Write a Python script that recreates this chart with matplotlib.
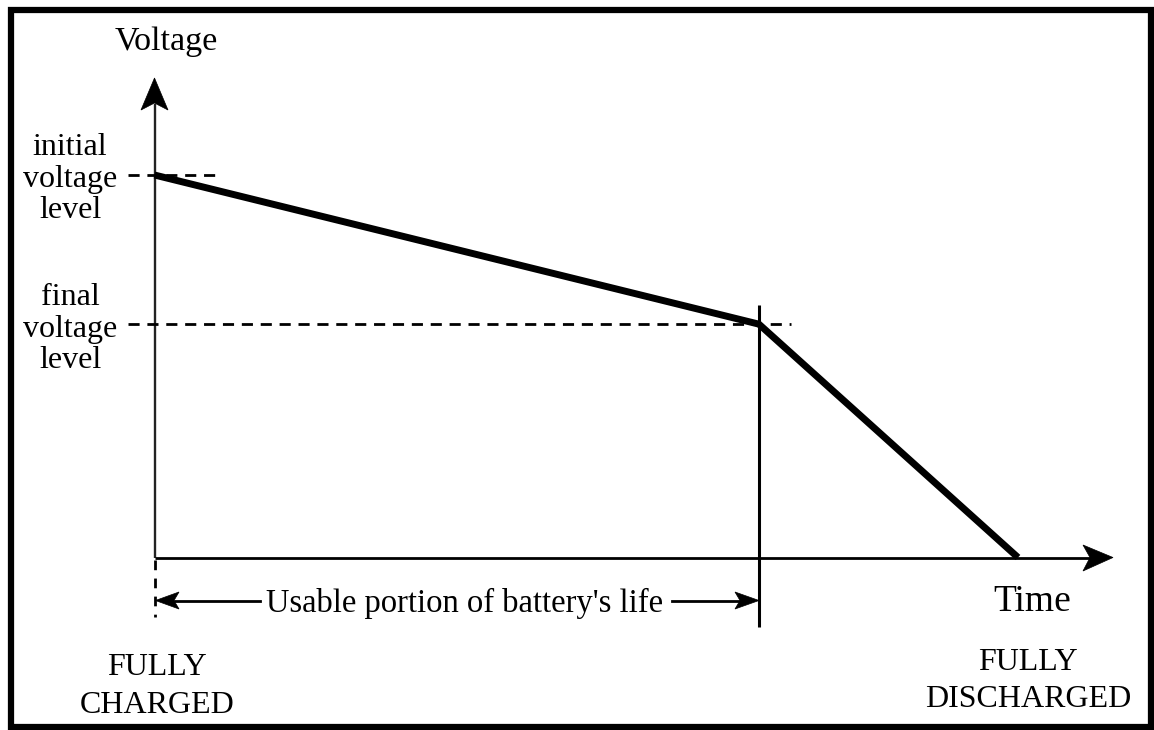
import matplotlib
matplotlib.use("Agg")
import matplotlib.pyplot as plt
from matplotlib.patches import Polygon, Rectangle

# ---- data ----
time = [0.0, 0.70, 1.0]          # fraction of battery life
voltage = [1.0, 0.61, 0.0]       # relative voltage
level_labels = [["initial", "voltage", "level"], ["final", "voltage", "level"]]
y_label = "Voltage"
x_label = "Time"
span_label = "Usable portion of battery's life"
start_label = ["FULLY", "CHARGED"]
end_label = ["FULLY", "DISCHARGED"]

plt.rcParams['font.family'] = ['Liberation Serif', 'DejaVu Serif']

W, H = 1154, 730
fig = plt.figure(figsize=(W / 100, H / 100), dpi=100)
ax = fig.add_axes([0, 0, 1, 1])

# pixel layout helpers (time 0/1 and voltage 0/1 anchors)
X0, X1 = 154.5, 1018.0
Y0, Y1 = 557.5, 175.0
def px(p):
    return (p - X0) / (X1 - X0)
def py(p):
    return (Y0 - p) / (Y0 - Y1)

ax.set_xlim(px(0), px(W))
ax.set_ylim(py(H), py(0))
ax.axis('off')

# frame
ax.add_patch(Rectangle((px(11), py(727)), px(1151) - px(11), py(10) - py(727),
                       fill=False, edgecolor='black', linewidth=4.5,
                       clip_on=False, joinstyle='miter'))

def head(tip, c1, notch, c2):
    ax.add_patch(Polygon([(px(tip[0]), py(tip[1])), (px(c1[0]), py(c1[1])),
                          (px(notch[0]), py(notch[1])), (px(c2[0]), py(c2[1]))],
                         closed=True, facecolor='black', edgecolor='black',
                         linewidth=0.5, clip_on=False))

# y axis with arrow
ax.plot([0, 0], [0, py(104)], color='#222222', lw=1.7, solid_capstyle='butt')
head((154.5, 78), (141, 110), (154.5, 103), (168, 110))
# x axis with arrow
ax.plot([0, px(1090)], [0, 0], color='black', lw=2.0, solid_capstyle='butt')
head((1113, 557.5), (1083, 545), (1090, 557.5), (1083, 571))

# dashed reference lines at voltage levels
dash = dict(color='black', lw=2.0, dashes=(4.0, 2.8))
ax.plot([px(128), px(215)], [voltage[0], voltage[0]], **dash)
ax.plot([px(128), px(791)], [voltage[1], voltage[1]], **dash)
# dashed below the origin
ax.plot([time[0], time[0]], [py(560), py(617)], color='black', lw=2.0, dashes=(3.5, 3))
# vertical line at end of usable life
ax.plot([time[1], time[1]], [py(305), py(627)], color='black', lw=2.2, solid_capstyle='butt')

# discharge curve
ax.plot(time, voltage, color='black', lw=5.0, solid_joinstyle='miter',
        solid_capstyle='butt')

# double arrow for usable portion
ya = py(600.5)
ax.plot([px(175), px(260)], [ya, ya], color='black', lw=2.0)
head((155.5, 600.5), (179, 592), (174, 600.5), (179, 609))
ax.plot([px(672), px(740)], [ya, ya], color='black', lw=2.0)
head((759, 600.5), (735, 592), (740, 600.5), (735, 609))
ax.text(px(464.5), py(612), span_label, fontsize=23.5, ha='center', va='baseline')

# labels
ax.text(px(166), py(50), y_label, fontsize=24.5, ha='center', va='baseline')
ax.text(px(1032), py(611), x_label, fontsize=27, ha='center', va='baseline')

for lines, bases in zip(level_labels, [[155, 187, 218], [305, 337, 368]]):
    for t, b in zip(lines, bases):
        ax.text(px(70), py(b), t, fontsize=23, ha='center', va='baseline')

for t, b in zip(start_label, [675, 713]):
    ax.text(px(157), py(b), t, fontsize=23, ha='center', va='baseline')
for t, b in zip(end_label, [670, 707]):
    ax.text(px(1028), py(b), t, fontsize=23, ha='center', va='baseline')

fig.savefig("out.png", dpi=100, facecolor='white')
